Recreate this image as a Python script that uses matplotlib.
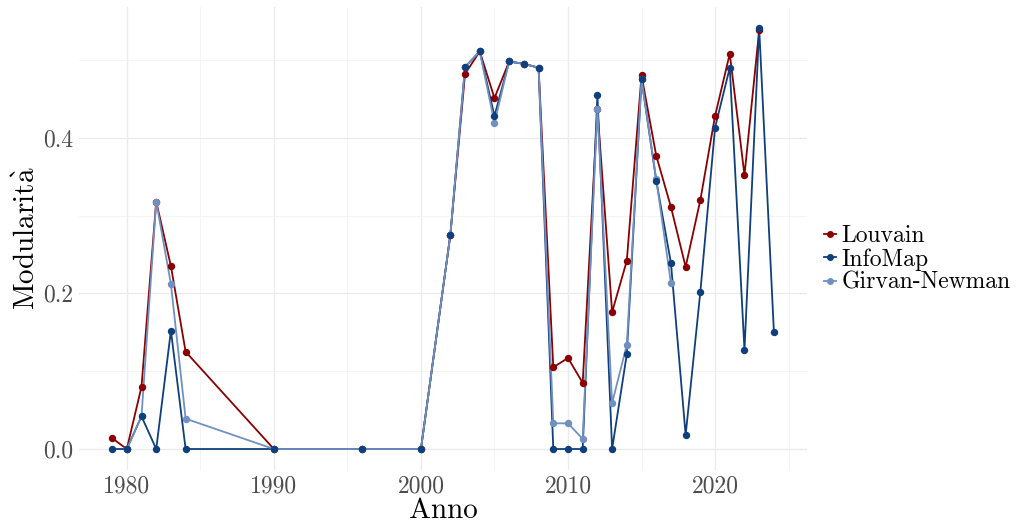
import numpy as np
import matplotlib
matplotlib.use("Agg")
import matplotlib.pyplot as plt
from matplotlib.ticker import MultipleLocator

plt.rcParams['font.family'] = ['cmr10', 'DejaVu Serif']
plt.rcParams['mathtext.fontset'] = 'cm'
plt.rcParams['axes.formatter.use_mathtext'] = True

years = [1979, 1980, 1981, 1982, 1983, 1984, 1990, 1996, 2000, 2002,
         2003, 2004, 2005, 2006, 2007, 2008, 2009, 2010, 2011, 2012,
         2013, 2014, 2015, 2016, 2017, 2018, 2019, 2020, 2021, 2022,
         2023, 2024]

nan = np.nan
louvain = [0.014, 0.0, 0.080, 0.318, 0.235, 0.125, 0.0, 0.0, 0.0, 0.275,
           0.482, 0.511, 0.451, 0.498, 0.495, 0.490, 0.105, 0.117, 0.085, 0.437,
           0.176, 0.242, 0.480, 0.377, 0.311, 0.234, 0.320, 0.428, 0.508, 0.352,
           0.538, nan]
infomap = [0.0, 0.0, 0.042, 0.0, 0.152, 0.0, 0.0, 0.0, 0.0, 0.275,
           0.491, 0.511, 0.428, 0.498, 0.495, 0.490, 0.0, 0.0, 0.0, 0.455,
           0.0, 0.122, 0.475, 0.345, 0.239, 0.018, 0.202, 0.413, 0.490, 0.127,
           0.541, 0.151]
girvan = [nan, 0.0, 0.042, 0.318, 0.212, 0.039, 0.0, 0.0, 0.0, 0.275,
          0.491, 0.511, 0.419, 0.498, 0.495, 0.490, 0.033, 0.033, 0.013, 0.437,
          0.059, 0.134, 0.475, 0.347, 0.213, nan, nan, nan, nan, nan,
          nan, nan]

c_lou = '#8B0000'
c_im = '#0E3F7E'
c_gn = '#7090C2'

fig = plt.figure(figsize=(10.22, 5.24), dpi=100)
ax = fig.add_axes([0.0773, 0.103, 0.7123, 0.8836])

yrs = np.array(years)
series = [(louvain, c_lou, 'Louvain'), (infomap, c_im, 'InfoMap'), (girvan, c_gn, 'Girvan-Newman')]

# lines first, then points (like ggplot layers)
for vals, col, name in series:
    v = np.array(vals, dtype=float)
    m = ~np.isnan(v)
    ax.plot(yrs[m], v[m], color=col, lw=1.3, zorder=2)
for vals, col, name in [series[0], series[2], series[1]]:
    v = np.array(vals, dtype=float)
    m = ~np.isnan(v)
    ax.plot(yrs[m], v[m], 'o', color=col, ms=4.3, zorder=3)

# legend handles
handles = [plt.Line2D([], [], color=col, lw=1.3, marker='o', ms=4) for _, col, _ in series]
leg = ax.legend(handles, [s[2] for s in series], loc='center left', bbox_to_anchor=(1.01, 0.455),
                frameon=False, fontsize=17, handlelength=0.5, handletextpad=0.25,
                labelspacing=0.05, borderaxespad=0)

ax.set_xlim(1976.75, 2026.25)
ax.set_ylim(-0.027, 0.568)
ax.xaxis.set_major_locator(MultipleLocator(10))
ax.xaxis.set_minor_locator(MultipleLocator(5))
ax.yaxis.set_major_locator(MultipleLocator(0.2))
ax.yaxis.set_minor_locator(MultipleLocator(0.1))
ax.yaxis.set_major_formatter(plt.FuncFormatter(lambda v, p: f"{v:.1f}"))
ax.xaxis.set_major_formatter(plt.FuncFormatter(lambda v, p: f"{int(v)}"))

ax.grid(which='major', color='#EBEBEB', lw=1.0)
ax.grid(which='minor', color='#F2F2F2', lw=0.6)
ax.set_axisbelow(True)
for s in ax.spines.values():
    s.set_visible(False)
ax.tick_params(which='both', length=0, labelsize=17, labelcolor='#4D4D4D', pad=4)

ax.set_xlabel('Anno', fontsize=21, labelpad=0)
ax.set_ylabel(r'$\mathrm{Modularit\grave{a}}$', fontsize=21, labelpad=2)

fig.savefig('out.png', dpi=100)
